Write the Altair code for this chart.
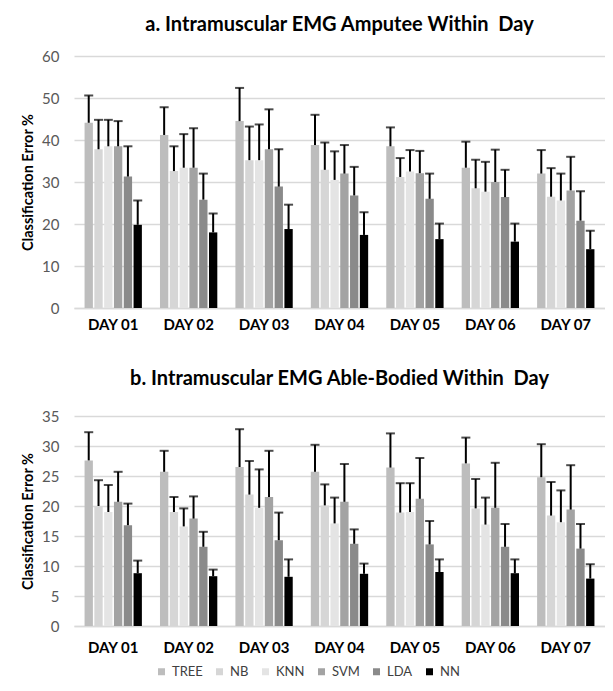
import altair as alt
import pandas as pd

days = ["DAY 01", "DAY 02", "DAY 03", "DAY 04", "DAY 05", "DAY 06", "DAY 07"]
methods = ["TREE", "NB", "KNN", "SVM", "LDA", "NN"]
shades = ["#bdbdbd", "#d6d6d6", "#e4e4e4", "#a3a3a3", "#8a8a8a", "#000000"]

# a. Amputee (mean, SD)
amp_tree = [44.1, 41.2, 44.5, 38.8, 38.5, 33.4, 32.0]
amp_nb = [37.8, 32.6, 35.2, 32.9, 31.2, 28.5, 26.5]
amp_knn = [38.5, 33.4, 35.2, 30.5, 32.5, 27.7, 25.6]
amp_svm = [38.5, 33.4, 37.8, 32.0, 32.1, 30.0, 28.0]
amp_lda = [31.3, 25.8, 28.9, 26.8, 26.0, 26.4, 20.8]
amp_nn = [19.8, 18.0, 18.8, 17.4, 16.4, 15.8, 14.0]

amp_tree_sd = [6.5, 6.6, 7.9, 7.2, 4.5, 6.2, 5.6]
amp_nb_sd = [7.0, 5.9, 8.0, 6.5, 4.5, 6.8, 6.8]
amp_knn_sd = [6.3, 8.0, 8.5, 6.8, 5.1, 7.1, 6.4]
amp_svm_sd = [6.0, 9.4, 9.5, 6.8, 5.3, 7.7, 8.0]
amp_lda_sd = [7.2, 6.2, 8.9, 6.8, 6.0, 6.5, 7.0]
amp_nn_sd = [5.8, 4.5, 5.8, 5.4, 3.7, 4.3, 4.4]

# b. Able-bodied (mean, SD)
ab_tree = [27.6, 25.7, 26.5, 25.7, 26.4, 27.1, 24.8]
ab_nb = [20.0, 19.0, 21.9, 20.1, 18.9, 19.6, 18.4]
ab_knn = [19.0, 16.6, 19.7, 17.1, 19.0, 16.9, 17.3]
ab_svm = [20.7, 17.9, 21.5, 20.7, 21.2, 19.7, 19.4]
ab_lda = [16.8, 13.2, 14.3, 13.7, 13.6, 13.2, 12.9]
ab_nn = [8.8, 8.3, 8.2, 8.7, 9.0, 8.8, 7.9]

ab_tree_sd = [4.7, 3.5, 6.3, 4.5, 5.7, 4.3, 5.5]
ab_nb_sd = [4.3, 2.5, 5.6, 3.5, 4.9, 4.9, 5.6]
ab_knn_sd = [4.5, 3.0, 6.4, 4.3, 4.8, 4.5, 5.3]
ab_svm_sd = [5.0, 3.7, 7.7, 6.3, 6.8, 7.5, 7.4]
ab_lda_sd = [3.6, 2.5, 4.6, 2.4, 3.9, 3.8, 4.1]
ab_nn_sd = [2.1, 1.1, 2.9, 1.7, 2.1, 2.3, 2.4]

FONT = "Lato"


def build(means, sds):
    rows = []
    for m, vals, errs in zip(methods, means, sds):
        for d, v, e in zip(days, vals, errs):
            rows.append({"day": d, "method": m, "mean": v, "upper": v + e})
    return pd.DataFrame(rows)


LEGEND = alt.Legend(
    title=None,
    orient="none",
    legendX=81,
    legendY=249,
    direction="horizontal",
    labelFont=FONT,
    labelFontSize=13,
    labelColor="#404040",
    labelOffset=4,
    symbolType="square",
    symbolSize=49,
    symbolStrokeWidth=0,
    columnPadding=10,
)


def panel(df, title, ymax, step, height, title_offset, xlabel_pad, legend):
    yaxis = alt.Axis(
        values=list(range(0, ymax + 1, step)),
        labelFont=FONT,
        labelFontSize=15,
        labelColor="#595959",
        labelPadding=15,
        labelOverlap=False,
        titleFont=FONT,
        titleFontSize=14.5,
        titleFontWeight="bold",
        titleColor="#000000",
        titlePadding=6,
        ticks=False,
        domain=False,
        gridColor="#d9d9d9",
        gridWidth=1.5,
    )
    yscale = alt.Scale(domain=[0, ymax], nice=False)
    base = alt.Chart(df).encode(
        x=alt.X(
            "day:N",
            sort=days,
            title=None,
            scale=alt.Scale(paddingInner=0.24, paddingOuter=0.14),
            axis=alt.Axis(
                labelAngle=0,
                labelFont=FONT,
                labelFontSize=15,
                labelFontWeight="bold",
                labelColor="#000000",
                labelPadding=xlabel_pad,
                ticks=False,
                domainColor="#d9d9d9",
                domainWidth=1.5,
            ),
        ),
        xOffset=alt.XOffset(
            "method:N", sort=methods, scale=alt.Scale(domain=methods, paddingInner=0.15)
        ),
    )
    bars = base.mark_bar().encode(
        y=alt.Y("mean:Q", title="Classification Error %", scale=yscale, axis=yaxis),
        color=alt.Color(
            "method:N",
            sort=methods,
            scale=alt.Scale(domain=methods, range=shades),
            legend=legend,
        ),
    )
    err = base.mark_rule(color="#000000", strokeWidth=2).encode(
        y=alt.Y("mean:Q", title="Classification Error %", scale=yscale, axis=yaxis),
        y2="upper:Q",
    )
    cap = base.mark_tick(color="#000000", thickness=2, size=9).encode(
        y=alt.Y("upper:Q", title="Classification Error %", scale=yscale, axis=yaxis)
    )
    return alt.layer(bars, err, cap).properties(
        width=531,
        height=height,
        title=alt.TitleParams(
            title,
            font=FONT,
            fontSize=20,
            fontWeight="bold",
            color="#000000",
            anchor="middle",
            offset=title_offset,
        ),
    )


top = panel(
    build(
        [amp_tree, amp_nb, amp_knn, amp_svm, amp_lda, amp_nn],
        [amp_tree_sd, amp_nb_sd, amp_knn_sd, amp_svm_sd, amp_lda_sd, amp_nn_sd],
    ),
    "a. Intramuscular EMG Amputee Within \u00a0Day",
    60,
    10,
    252,
    14,
    9,
    None,
)
bottom = panel(
    build(
        [ab_tree, ab_nb, ab_knn, ab_svm, ab_lda, ab_nn],
        [ab_tree_sd, ab_nb_sd, ab_knn_sd, ab_svm_sd, ab_lda_sd, ab_nn_sd],
    ),
    "b. Intramuscular EMG Able-Bodied Within \u00a0Day",
    35,
    5,
    210,
    20,
    14,
    LEGEND,
)

chart = (
    alt.vconcat(top, bottom, spacing=37)
    .resolve_scale(color="independent")
    .properties(padding={"left": 12, "top": 7, "right": 0, "bottom": 0})
    .configure_view(stroke=None)
)

chart.save("out.html", embed_options={"renderer": "svg", "actions": False})
